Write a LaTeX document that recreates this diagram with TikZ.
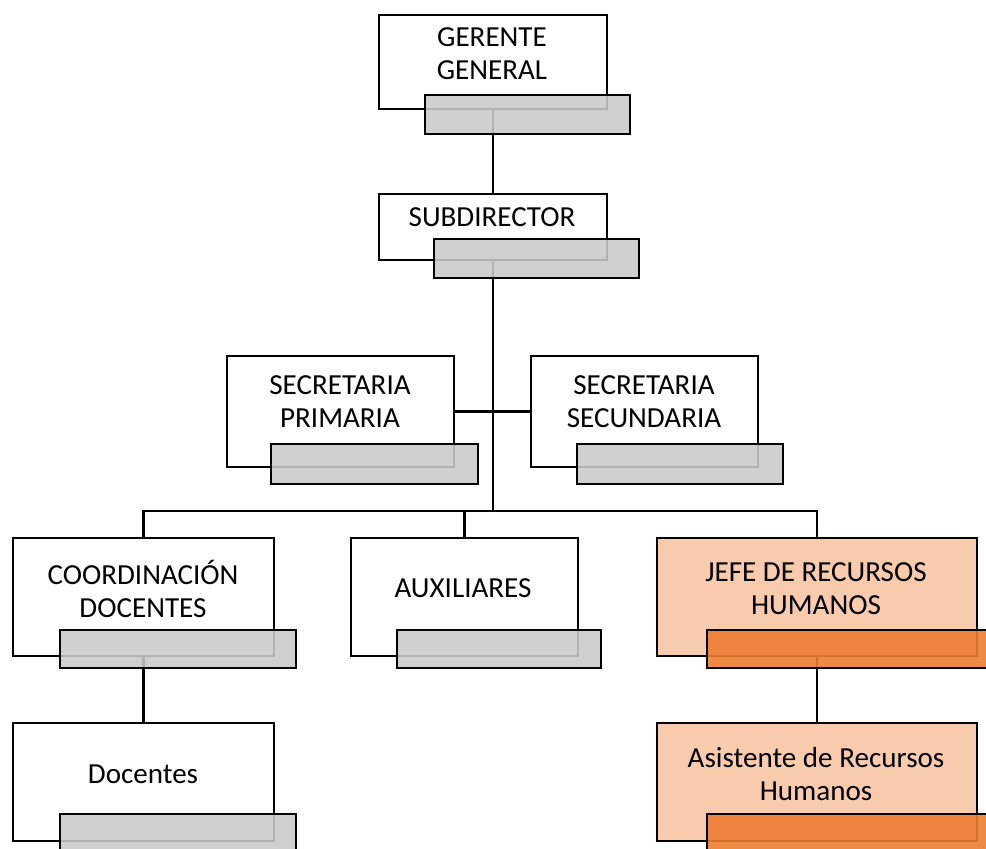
\documentclass[tikz,border=0pt]{standalone}
\usepackage{fontspec}
\setmainfont{Carlito}
\usetikzlibrary{positioning}
\pgfdeclarelayer{bg}
\pgfsetlayers{bg,main}
\definecolor{barGrey}{RGB}{202,202,202}
\definecolor{lightOrange}{RGB}{248,203,173}
\definecolor{darkOrange}{RGB}{237,125,49}
\tikzset{
  mainbox/.style={draw=black, line width=1.7pt, fill=white, inner sep=0pt, rectangle},
  orangebox/.style={mainbox, fill=lightOrange},
  greybar/.style={draw=black, line width=1.7pt, fill=barGrey, fill opacity=0.88, inner sep=0pt, rectangle},
  orangebar/.style={draw=black, line width=1.7pt, fill=darkOrange, fill opacity=0.9, inner sep=0pt, rectangle},
  lbl/.style={align=center, font=\fontsize{21.8pt}{24.75pt}\selectfont, inner sep=0pt},
  conn/.style={draw=black, line width=1.8pt}
}
\newcommand{\pbox}[6]{%
  \pgfmathsetlengthmacro{\bw}{(#4-#2)*0.75pt}%
  \pgfmathsetlengthmacro{\bh}{(#5-#3)*0.75pt}%
  \node[#6, minimum width=\bw, minimum height=\bh, anchor=north west] (#1) at (#2,#3) {};}
\begin{document}
\begin{tikzpicture}[x=0.75pt, y=-0.75pt]
\useasboundingbox (0,0) rectangle (986,849);
\clip (0,0) rectangle (986,849);
% main boxes
\pbox{gg}{378}{14}{606}{108}{mainbox}
\pbox{sub}{378}{193}{606}{259}{mainbox}
\pbox{secp}{226}{355}{453}{466}{mainbox}
\pbox{secs}{530}{355}{757}{466}{mainbox}
\pbox{coord}{12}{537}{273}{655}{mainbox}
\pbox{aux}{350}{537}{577}{655}{mainbox}
\pbox{jefe}{656}{537}{976}{655}{orangebox}
\pbox{doc}{12}{722}{273}{840}{mainbox}
\pbox{asis}{656}{722}{976}{840}{orangebox}
% overlay bars
\pbox{ggb}{424}{94}{629}{133}{greybar}
\pbox{subb}{433}{238}{638}{277}{greybar}
\pbox{secpb}{270}{443}{477}{483}{greybar}
\pbox{secsb}{576}{443}{782}{483}{greybar}
\pbox{coordb}{59}{629}{295}{667}{greybar}
\pbox{auxb}{396}{629}{600}{667}{greybar}
\pbox{jefeb}{706}{629}{1000}{667}{orangebar}
\pbox{docb}{59}{813}{295}{870}{greybar}
\pbox{asisb}{706}{813}{1000}{870}{orangebar}
% labels
\node[lbl] (tgg) at (492,54) {GERENTE\\GENERAL};
\node[lbl] (tsub) at (492,217) {SUBDIRECTOR};
\node[lbl] (tsecp) at (340,402) {SECRETARIA\\PRIMARIA};
\node[lbl] (tsecs) at (644,402) {SECRETARIA\\SECUNDARIA};
\node[lbl] (tcoord) at (143,589) {COORDINACIÓN\\DOCENTES};
\node[lbl] (taux) at (463,588) {AUXILIARES};
\node[lbl] (tjefe) at (816,589) {JEFE DE RECURSOS\\HUMANOS};
\node[lbl] (tdoc) at (143,774) {Docentes};
\node[lbl] (tasis) at (816,774) {Asistente de Recursos\\Humanos};
% connectors
\coordinate (jn) at (sub.south |- 0,511);
\begin{pgfonlayer}{bg}
\draw[conn] (gg.south) -- (gg.south |- sub.north);
\draw[conn] (sub.south) -- (jn);
\draw[conn] (secp.east) -- (secs.west);
\draw[conn] (coord.north) |- (jn) -| (jefe.north);
\draw[conn] (aux.north) -- (aux.north |- jn);
\draw[conn] (coord.south) -- (doc.north);
\draw[conn] (jefe.south) -- (asis.north);
\end{pgfonlayer}
\end{tikzpicture}
\end{document}
